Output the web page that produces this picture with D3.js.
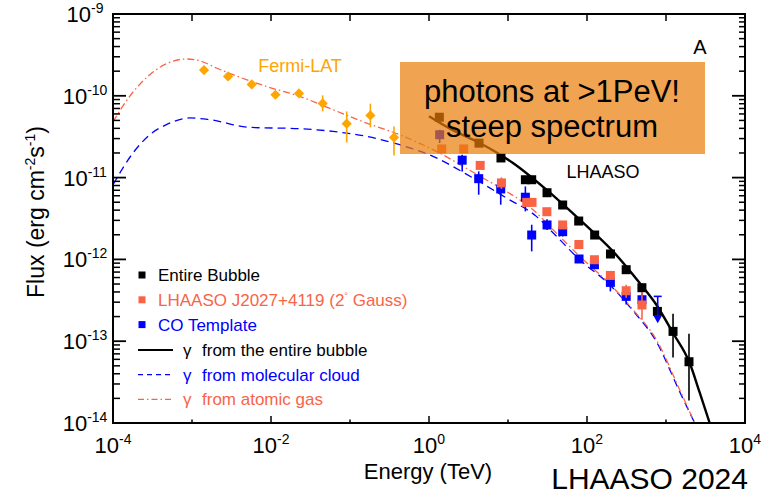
<!DOCTYPE html>
<html>
<head>
<meta charset="utf-8">
<script src="https://cdn.jsdelivr.net/npm/d3@7"></script>
<style>
body{margin:0;background:#fff}
svg text{font-family:"Liberation Sans",Arial,Helvetica,sans-serif}
</style>
</head>
<body>
<svg id="chart" width="776" height="497"></svg>
<script>
// values are log10: energy in TeV, flux in erg cm^-2 s^-1
var fermiE=[-2.848,-2.544,-2.244,-1.944,-1.646,-1.346,-1.042,-0.742,-0.443]
var fermiF=[-9.685,-9.763,-9.861,-9.987,-9.971,-10.093,-10.341,-10.240,-10.509]
var fermiErr=[null,null,null,null,null,[-10.19,-9.995],[-10.570,-10.191],[-10.386,-10.097],[-10.729,-10.374]]

var bubbleE=[0.131,0.633,0.911,1.220,1.300,1.494,1.692,1.895,2.097,2.297,2.496,2.695,2.891,3.089,3.291]
var bubbleF=[-10.262,-10.579,-10.760,-11.026,-11.026,-11.185,-11.335,-11.531,-11.702,-11.934,-12.126,-12.346,-12.636,-12.880,-13.251]
var bubbleErr=[null,null,null,null,null,null,null,null,null,null,null,null,null,[-13.198,-12.664],[-13.724,-12.908]]

var gaussE=[0.161,0.439,0.648,0.917,1.237,1.304,1.492,1.692,1.897,2.094,2.296,2.496,2.696]
var gaussF=[-10.650,-10.650,-10.851,-11.065,-11.303,-11.303,-11.417,-11.579,-11.818,-12.004,-12.196,-12.383,-12.557]
var gaussErr=[null,null,null,[-11.139,-10.997],null,null,null,null,null,null,null,[-12.47,-12.31],[-12.737,-12.289]]

var coE=[0.135,0.420,0.629,0.908,1.220,1.300,1.494,1.692,1.899,2.094,2.296,2.496,2.696]
var coF=[-10.476,-10.787,-11.013,-11.139,-11.240,-11.702,-11.579,-11.661,-11.995,-12.065,-12.281,-12.452,-12.493]
var coErr=[[-10.577,-10.416],[-10.924,-10.720],[-11.209,-10.924],[-11.331,-11.066],[-11.413,-11.108],[-11.902,-11.576],[-11.64,-11.51],[-11.72,-11.616],[-12.044,-11.946],[-12.117,-12.02],[-12.391,-12.248],[-12.55,-12.37],[-12.575,-12.407]]
var coLimitE=[2.895], coLimitF=[-12.452]

var bubbleModel=[[0.0,-10.25],[0.3,-10.42],[0.642,-10.577],[1.063,-10.822],[1.486,-11.148],[1.908,-11.515],[2.329,-11.902],[2.667,-12.289],[2.878,-12.554],[3.089,-12.900],[3.300,-13.267],[3.427,-13.63],[3.553,-14.0]]
var cloudModel=[[-4.0,-11.087],[-3.747,-10.699],[-3.535,-10.476],[-3.324,-10.353],[-3.114,-10.280],[-3.029,-10.271],[-2.776,-10.292],[-2.270,-10.386],[-1.637,-10.402],[-1.215,-10.435],[-0.792,-10.496],[-0.371,-10.598],[0.051,-10.741],[0.557,-11.005],[0.980,-11.249],[1.359,-11.474],[1.570,-11.674],[1.908,-12.005],[2.287,-12.309],[2.582,-12.627],[2.878,-13.006],[3.173,-13.617],[3.363,-14.0]]
var atomicModel=[[-4.0,-10.317],[-3.789,-10.007],[-3.535,-9.742],[-3.324,-9.608],[-3.071,-9.550],[-2.903,-9.571],[-2.691,-9.660],[-2.481,-9.742],[-2.058,-9.885],[-1.637,-10.007],[-1.215,-10.170],[-0.792,-10.333],[-0.371,-10.476],[0.051,-10.659],[0.684,-11.005],[0.980,-11.169],[1.316,-11.392],[1.570,-11.637],[1.908,-11.963],[2.287,-12.30],[2.582,-12.615],[2.878,-12.982],[3.173,-13.593],[3.363,-14.0]]

var xTicks=[-4,-3,-2,-1,0,1,2,3,4]
var yTicks=[-9,-10,-11,-12,-13,-14]

var red='#f96447', blue='#0000ff', orange='#ffa500'
var L=113, R=745, T=14, B=423

var svg=d3.select('#chart')
var x=d3.scaleLog().domain([1e-4,1e4]).range([L,R])
var y=d3.scaleLog().domain([1e-14,1e-9]).range([B,T])
function px(v){ return x(Math.pow(10,v)) }
function py(v){ return y(Math.pow(10,v)) }

svg.append('defs').append('clipPath').attr('id','plotclip')
	.append('rect').attr('x',L).attr('y',T).attr('width',R-L).attr('height',B-T)

var plot=svg.append('g').attr('clip-path','url(#plotclip)')
var line=d3.line().x(function(d){return px(d[0])}).y(function(d){return py(d[1])}).curve(d3.curveMonotoneX)

plot.append('path').datum(cloudModel).attr('d',line).attr('fill','none')
	.attr('stroke',blue).attr('stroke-width',1.3).attr('stroke-dasharray','8,5')
plot.append('path').datum(atomicModel).attr('d',line).attr('fill','none')
	.attr('stroke',red).attr('stroke-width',1.3).attr('stroke-dasharray','7,3,1.5,3')
plot.append('path').datum(bubbleModel).attr('d',line).attr('fill','none')
	.attr('stroke','#000').attr('stroke-width',2.4)

function errBars(E,F,err,color){
	plot.selectAll(null).data(E.map(function(e,i){return [e,err[i]]}).filter(function(d){return d[1]}))
		.enter().append('line')
		.attr('x1',function(d){return px(d[0])}).attr('x2',function(d){return px(d[0])})
		.attr('y1',function(d){return py(d[1][0])}).attr('y2',function(d){return py(d[1][1])})
		.attr('stroke',color).attr('stroke-width',1.6)
}
function squares(E,F,color,size){
	plot.selectAll(null).data(E.map(function(e,i){return [e,F[i]]}))
		.enter().append('rect')
		.attr('x',function(d){return px(d[0])-size/2}).attr('y',function(d){return py(d[1])-size/2})
		.attr('width',size).attr('height',size).attr('fill',color)
}

errBars(coE,coF,coErr,blue)
squares(coE,coF,blue,9)
errBars(gaussE,gaussF,gaussErr,red)
squares(gaussE,gaussF,red,9)
errBars(bubbleE,bubbleF,bubbleErr,'#000')
squares(bubbleE,bubbleF,'#000',9)

// CO upper limit
coLimitE.forEach(function(e,i){
	var cx=px(e), cy=py(coLimitF[i]), tip=py(coLimitF[i]-0.33)
	plot.append('line').attr('x1',cx-4).attr('x2',cx+4).attr('y1',cy).attr('y2',cy).attr('stroke',blue).attr('stroke-width',1.6)
	plot.append('line').attr('x1',cx).attr('x2',cx).attr('y1',cy).attr('y2',tip-4).attr('stroke',blue).attr('stroke-width',1.6)
	plot.append('path').attr('d','M'+(cx-4.5)+','+(tip-8)+'L'+(cx+4.5)+','+(tip-8)+'L'+cx+','+tip+'Z').attr('fill',blue)
})

errBars(fermiE,fermiF,fermiErr,orange)
plot.selectAll(null).data(fermiE.map(function(e,i){return [e,fermiF[i]]}))
	.enter().append('path')
	.attr('d',d3.symbol(d3.symbolSquare,52))
	.attr('transform',function(d){return 'translate('+px(d[0])+','+py(d[1])+') rotate(45)'})
	.attr('fill',orange)

// annotation box
svg.append('rect').attr('x',400).attr('y',62).attr('width',305).attr('height',92)
	.attr('fill','rgb(234,124,6)').attr('fill-opacity',0.7)
svg.append('text').attr('x',552).attr('y',101.5).attr('text-anchor','middle').attr('font-size',31).text('photons at >1PeV!')
svg.append('text').attr('x',552).attr('y',136.5).attr('text-anchor','middle').attr('font-size',31).text('steep spectrum')

svg.append('text').attr('x',300).attr('y',72).attr('text-anchor','middle').attr('font-size',18).attr('fill',orange).text('Fermi-LAT')
svg.append('text').attr('x',603).attr('y',178).attr('text-anchor','middle').attr('font-size',18).text('LHAASO')
svg.append('text').attr('x',700).attr('y',54).attr('text-anchor','middle').attr('font-size',20).text('A')

// frame and ticks
var axes=svg.append('g').attr('stroke','#000')
axes.append('rect').attr('x',L).attr('y',T).attr('width',R-L).attr('height',B-T).attr('fill','none').attr('stroke-width',2)
xTicks.forEach(function(t){
	var len=(t%2===0)?7:3.5
	axes.append('line').attr('x1',px(t)).attr('x2',px(t)).attr('y1',B).attr('y2',B-len).attr('stroke-width',1.5)
	axes.append('line').attr('x1',px(t)).attr('x2',px(t)).attr('y1',T).attr('y2',T+7).attr('stroke-width',1.5)
})
yTicks.forEach(function(t){
	axes.append('line').attr('x1',L).attr('x2',L+13).attr('y1',py(t)).attr('y2',py(t)).attr('stroke-width',1.8)
	axes.append('line').attr('x1',R).attr('x2',R-13).attr('y1',py(t)).attr('y2',py(t)).attr('stroke-width',1.8)
	d3.range(2,10).forEach(function(m){
		var v=t+Math.log10(m)
		if(v>=-9) return
		axes.append('line').attr('x1',L).attr('x2',L+7).attr('y1',py(v)).attr('y2',py(v)).attr('stroke-width',1.5)
		axes.append('line').attr('x1',R).attr('x2',R-6).attr('y1',py(v)).attr('y2',py(v)).attr('stroke-width',1.5)
	})
})
yTicks.forEach(function(t){
	var txt=svg.append('text').attr('x',85).attr('y',py(t)+8).attr('text-anchor','middle').attr('font-size',22)
	txt.append('tspan').text('10')
	txt.append('tspan').attr('dy',-9).attr('font-size',14).text(t)
})
xTicks.filter(function(t){return t%2===0}).forEach(function(t){
	var txt=svg.append('text').attr('x',px(t)).attr('y',453).attr('text-anchor','middle').attr('font-size',22)
	txt.append('tspan').text('10')
	txt.append('tspan').attr('dy',-9).attr('font-size',14).text(t)
})

svg.append('text').attr('x',428).attr('y',479).attr('text-anchor','middle').attr('font-size',22).text('Energy (TeV)')
var yt=svg.append('text').attr('transform','translate(44,212) rotate(-90)').attr('text-anchor','middle').attr('font-size',23)
yt.append('tspan').text('Flux (erg cm')
yt.append('tspan').attr('dy',-9).attr('font-size',14).text('-2')
yt.append('tspan').attr('dy',9).text('s')
yt.append('tspan').attr('dy',-9).attr('font-size',14).text('-1')
yt.append('tspan').attr('dy',9).text(')')

svg.append('text').attr('x',748).attr('y',489).attr('text-anchor','end').attr('font-size',30).text('LHAASO 2024')

// legend
var legendMarks=[['Entire Bubble','#000'],['LHAASO J2027+4119 (2','red'],['CO Template',blue]]
var legendLines=[['from the entire bubble','#000',null,2],['from molecular cloud',blue,'5,4',1.3],['from atomic gas',red,'6,3,1.5,3',1.3]]
var lg=svg.append('g')
legendMarks.forEach(function(d,i){
	var c=d[1]==='red'?red:d[1], yy=275+i*24.8
	lg.append('rect').attr('x',138.5).attr('y',yy-3.5).attr('width',7).attr('height',7).attr('fill',c)
	var t=lg.append('text').attr('x',158).attr('y',yy+6).attr('font-size',17).attr('fill',c).text(d[0])
	if(i===1){
		t.append('tspan').attr('dy',-7).attr('font-size',9).text('°')
		t.append('tspan').attr('dy',7).text(' Gauss)')
	}
})
legendLines.forEach(function(d,i){
	var yy=350+i*24.7
	lg.append('line').attr('x1',138).attr('x2',173).attr('y1',yy).attr('y2',yy)
		.attr('stroke',d[1]).attr('stroke-width',d[3]).attr('stroke-dasharray',d[2])
	lg.append('text').attr('x',183).attr('y',yy+6).attr('font-size',17).attr('fill',d[1]).text('γ')
	lg.append('text').attr('x',202).attr('y',yy+6).attr('font-size',17).attr('fill',d[1]).text(d[0])
})
</script>
</body>
</html>
